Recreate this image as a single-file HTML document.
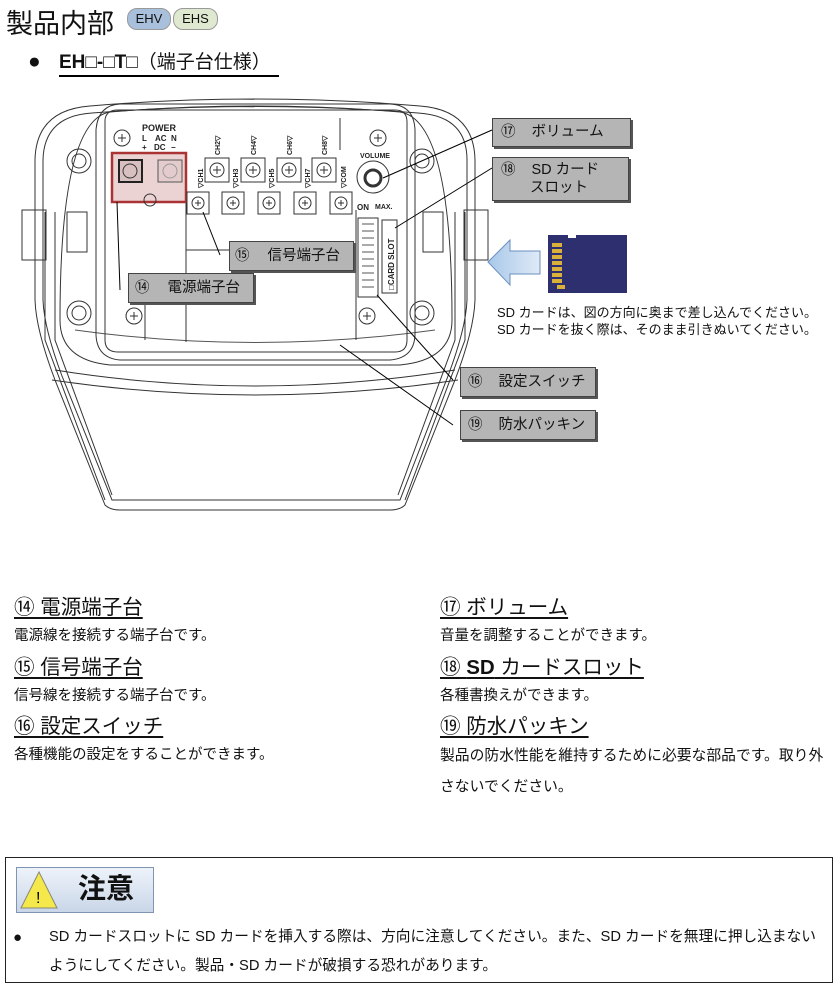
<!DOCTYPE html>
<html><head><meta charset="utf-8"><style>
body{margin:0;width:838px;height:987px;background:#fff;position:relative;overflow:hidden;font-family:"Liberation Sans","Noto Sans CJK JP",sans-serif;color:#111}
.a{position:absolute;white-space:nowrap}
.h{font-size:20.5px;text-decoration:underline;text-underline-offset:3px}
.d{font-size:14.5px}
.pill{position:absolute;top:8px;height:20px;border-radius:10px;font-size:13px;line-height:20px;text-align:center;border:1px solid #999}
.lb{position:absolute;background:#b5b5b5;border:1px solid #444;box-shadow:2px 2px 0 #555;font-size:14.5px}
</style></head><body>
<div class="a" style="left:6px;top:2px;font-size:27px">製品内部</div>
<div class="pill" style="left:127px;width:42px;background:#a9c0dc">EHV</div>
<div class="pill" style="left:173px;width:43px;background:#dfe9cf">EHS</div>
<div class="a" style="left:28px;top:50px;font-size:21px">●</div>
<div class="a" style="left:59px;top:51px;font-size:19px;font-weight:bold;border-bottom:2px solid #000;padding-right:8px;line-height:24px">EH□-□T□<span style="font-weight:normal">（端子台仕様）</span></div>

<svg class="a" style="left:0;top:0" width="838" height="560" fill="none" stroke="#333" stroke-width="1">
<path d="M35 160 Q36 110 90 106 Q255 92 420 106 Q474 110 475 160 L475 300 Q474 330 455 380 L405 505 Q400 510 390 510 L120 510 Q110 510 105 505 L55 380 Q36 330 35 300 Z"/>
<path d="M43 160 Q44 116 92 113 Q255 100 418 113 Q467 116 467 160 L467 300 Q466 328 448 376 L400 500 L112 500 L62 376 Q44 328 43 300 Z"/>
<path d="M52 380 Q255 410 458 380"/><path d="M55 370 Q255 402 455 370"/>
<path d="M75 330 Q255 355 435 330" stroke="#555"/>
<path d="M60 320 Q60 120 110 112 Q255 100 400 112 Q452 120 452 320 Q452 360 400 365 L110 365 Q60 360 60 320Z"/>
<path d="M45 212 L45 340 L105 500 M55 212 L55 340 L112 495"/>
<path d="M465 212 L465 340 L405 500 M455 212 L455 340 L398 495"/>
<rect x="22" y="210" width="24" height="50"/><rect x="464" y="210" width="24" height="50"/>
<rect x="67" y="212" width="20" height="40"/><rect x="423" y="212" width="20" height="40"/>
<g><circle cx="79" cy="161" r="12"/><circle cx="79" cy="161" r="7"/><circle cx="422" cy="161" r="12"/><circle cx="422" cy="161" r="7"/><circle cx="79" cy="313" r="12"/><circle cx="79" cy="313" r="7"/><circle cx="422" cy="313" r="12"/><circle cx="422" cy="313" r="7"/></g>
<path d="M105 120 Q106 110 118 110 L395 110 Q407 110 407 122 L407 340 Q407 352 395 352 L118 352 Q105 352 105 340 Z"/>
<path d="M96 130 Q98 105 120 104 L390 104 Q414 105 415 130 L415 335 Q414 358 390 360 L120 360 Q97 358 96 335Z"/>
<line x1="186" y1="200" x2="186" y2="342"/><line x1="186" y1="250" x2="229" y2="250"/>
<line x1="130" y1="300" x2="186" y2="300"/><line x1="145" y1="300" x2="145" y2="340"/>
<line x1="356" y1="210" x2="356" y2="340"/>
<line x1="340" y1="118" x2="340" y2="150"/>
<g stroke-width="1"><circle cx="122" cy="138" r="8"/><circle cx="378" cy="138" r="8"/><circle cx="134" cy="316" r="8"/><circle cx="367" cy="316" r="8"/>
<path d="M118 138h8M122 134v8M374 138h8M378 134v8M130 316h8M134 312v8M363 316h8M367 312v8"/></g>
<rect x="112" y="153" width="74" height="49" fill="#ecd3d3" stroke="#a33" stroke-width="2.5"/>
<rect x="119" y="160" width="23" height="22" fill="#d8c0c0" stroke="#222" stroke-width="2"/><circle cx="130" cy="171" r="7"/>
<rect x="158" y="160" width="24" height="22" fill="#e5cccc" stroke="#555"/><circle cx="170" cy="171" r="7" stroke="#999"/>
<circle cx="150" cy="200" r="6"/>
<g fill="#fff"><rect x="205" y="158" width="24" height="24"/><rect x="241" y="158" width="24" height="24"/><rect x="277" y="158" width="24" height="24"/><rect x="312" y="158" width="24" height="24"/>
<rect x="187" y="192" width="22" height="22"/><rect x="222" y="192" width="22" height="22"/><rect x="258" y="192" width="22" height="22"/><rect x="294" y="192" width="22" height="22"/><rect x="330" y="192" width="22" height="22"/></g>
<g><circle cx="217" cy="170" r="7"/><circle cx="253" cy="170" r="7"/><circle cx="289" cy="170" r="7"/><circle cx="324" cy="170" r="7"/>
<circle cx="198" cy="203" r="6"/><circle cx="233" cy="203" r="6"/><circle cx="269" cy="203" r="6"/><circle cx="305" cy="203" r="6"/><circle cx="341" cy="203" r="6"/>
<path d="M213 170h8M217 166v8M249 170h8M253 166v8M285 170h8M289 166v8M320 170h8M324 166v8M195 203h6M198 200v6M230 203h6M233 200v6M266 203h6M269 200v6M302 203h6M305 200v6M338 203h6M341 200v6"/></g>
<circle cx="373" cy="177" r="16"/><circle cx="373" cy="178" r="8" stroke-width="3"/>
<rect x="358" y="218" width="20" height="79"/>
<g stroke="#555"><path d="M362 224h12M362 231h12M362 238h12M362 245h12M362 252h12M362 259h12M362 266h12M362 273h12M362 280h12M362 287h12"/></g>
<rect x="382" y="220" width="15" height="73"/>
<g stroke="#000"><line x1="383" y1="178" x2="492" y2="130"/><line x1="395" y1="228" x2="492" y2="168"/>
<line x1="203" y1="212" x2="220" y2="255"/><line x1="117" y1="202" x2="120" y2="290"/>
<line x1="377" y1="295" x2="453" y2="380"/><line x1="340" y1="345" x2="453" y2="425"/></g>
<g fill="#222" stroke="none" font-family="Liberation Sans" font-weight="bold" font-size="8">
<text x="142" y="131" font-size="9">POWER</text><text x="142" y="141">L</text><text x="155" y="141">AC</text><text x="171" y="141">N</text>
<text x="142" y="150">+</text><text x="154" y="150">DC</text><text x="171" y="150">−</text>
<text x="360" y="158" font-size="7">VOLUME</text><text x="357" y="210">ON</text><text x="375" y="209" font-size="7">MAX.</text>
<text transform="translate(394,290) rotate(-90)" font-size="8">□CARD SLOT</text>
<text transform="translate(203,188) rotate(-90)" font-size="7">▽CH1</text><text transform="translate(238,188) rotate(-90)" font-size="7">▽CH3</text>
<text transform="translate(274,188) rotate(-90)" font-size="7">▽CH5</text><text transform="translate(310,188) rotate(-90)" font-size="7">▽CH7</text><text transform="translate(346,188) rotate(-90)" font-size="7">▽COM</text>
<text transform="translate(220,155) rotate(-90)" font-size="7">CH2▽</text><text transform="translate(256,155) rotate(-90)" font-size="7">CH4▽</text>
<text transform="translate(292,155) rotate(-90)" font-size="7">CH6▽</text><text transform="translate(327,155) rotate(-90)" font-size="7">CH8▽</text></g>
<defs><linearGradient id="g" x1="0" x2="1"><stop offset="0" stop-color="#a8c8ea"/><stop offset="1" stop-color="#dfeaf6"/></linearGradient></defs>
<path d="M488 262 L510 240 L510 251 L540 251 L540 274 L510 274 L510 285 Z" fill="url(#g)" stroke="#6a8fbf"/>
<path d="M548 235 L568 235 L568 238 L576 238 L576 235 L627 235 L627 293 L548 293 Z" fill="#2e2f6e" stroke="none"/>
<g fill="#d9b13a" stroke="none"><rect x="552" y="243" width="10" height="4"/><rect x="552" y="249" width="10" height="4"/><rect x="552" y="255" width="10" height="4"/><rect x="552" y="261" width="10" height="4"/><rect x="552" y="267" width="10" height="4"/><rect x="552" y="273" width="10" height="4"/><rect x="552" y="279" width="10" height="4"/><rect x="557" y="285" width="8" height="4"/></g>
</svg>

<div class="lb" style="left:229px;top:241px;width:123px;height:28px;line-height:28px"><span style="margin-left:5px">⑮</span><span style="margin-left:18px">信号端子台</span></div>
<div class="lb" style="left:128px;top:273px;width:124px;height:28px;line-height:28px"><span style="margin-left:6px">⑭</span><span style="margin-left:18px">電源端子台</span></div>
<div class="lb" style="left:492px;top:118px;width:137px;height:27px;line-height:27px"><span style="margin-left:8px">⑰</span><span style="margin-left:16px">ボリューム</span></div>
<div class="lb" style="left:492px;top:157px;width:137px;height:44px;line-height:18px;padding-top:3px;box-sizing:border-box"><span style="margin-left:8px">⑱</span><span style="margin-left:16px">SD カード</span><br><span style="margin-left:37px">スロット</span></div>
<div class="lb" style="left:460px;top:367px;width:134px;height:28px;line-height:28px"><span style="margin-left:7px">⑯</span><span style="margin-left:16px">設定スイッチ</span></div>
<div class="lb" style="left:460px;top:410px;width:134px;height:28px;line-height:28px"><span style="margin-left:7px">⑲</span><span style="margin-left:16px">防水パッキン</span></div>
<div class="a d" style="left:497px;top:304px;font-size:13px;line-height:17px">SD カードは、図の方向に奥まで差し込んでください。<br>SD カードを抜く際は、そのまま引きぬいてください。</div>

<div class="a h" style="left:14px;top:590px">⑭ 電源端子台</div>
<div class="a d" style="left:14px;top:624px">電源線を接続する端子台です。</div>
<div class="a h" style="left:14px;top:650px">⑮ 信号端子台</div>
<div class="a d" style="left:14px;top:684px">信号線を接続する端子台です。</div>
<div class="a h" style="left:14px;top:709px">⑯ 設定スイッチ</div>
<div class="a d" style="left:14px;top:743px">各種機能の設定をすることができます。</div>
<div class="a h" style="left:440px;top:590px">⑰ ボリューム</div>
<div class="a d" style="left:440px;top:624px">音量を調整することができます。</div>
<div class="a h" style="left:440px;top:650px">⑱ <b>SD</b> カードスロット</div>
<div class="a d" style="left:440px;top:684px">各種書換えができます。</div>
<div class="a h" style="left:440px;top:709px">⑲ 防水パッキン</div>
<div class="a d" style="left:440px;top:741px;line-height:31px;font-size:14.8px">製品の防水性能を維持するために必要な部品です。取り外<br>さないでください。</div>

<div class="a" style="left:5px;top:857px;width:826px;height:124px;border:1px solid #222"></div>
<div class="a" style="left:16px;top:867px;width:136px;height:44px;border:1px solid #7f95b3;background:linear-gradient(#eef3fa,#c9d6e8)"></div>
<svg class="a" style="left:19px;top:870px" width="40" height="40"><path d="M20 2 L38 38 L2 38 Z" fill="#f4e84a" stroke="#887"/><text x="17" y="33" font-size="16" font-family="Liberation Sans">!</text></svg>
<div class="a" style="left:78px;top:867px;font-size:28px;font-weight:bold;line-height:44px">注意</div>
<div class="a d" style="left:13px;top:923px;font-size:15px;line-height:29px">●</div>
<div class="a d" style="left:49px;top:923px;font-size:14.7px;line-height:29px">SD カードスロットに SD カードを挿入する際は、方向に注意してください。また、SD カードを無理に押し込まない<br>ようにしてください。製品・SD カードが破損する恐れがあります。</div>
</body></html>
